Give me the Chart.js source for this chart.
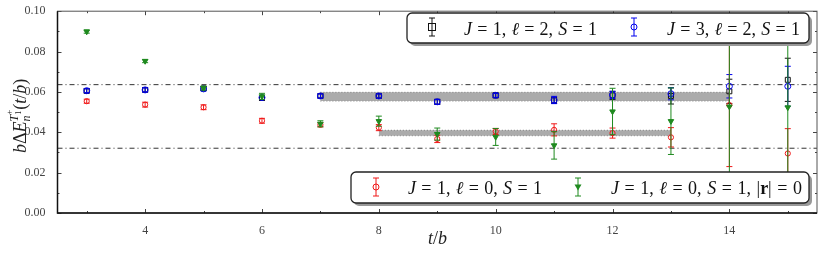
<!DOCTYPE html>
<html>
<head>
<meta charset="utf-8">
<script src="https://cdn.jsdelivr.net/npm/chart.js@4.4.0/dist/chart.umd.min.js"></script>
<style>
  html, body { margin: 0; padding: 0; background: #fff; }
</style>
</head>
<body>
<canvas id="myChart" width="822" height="254"></canvas>
<script>
// time slices t/b
const tValues = [3, 4, 5, 6, 7, 8, 9, 10, 11, 12, 13, 14, 15];

// J=1, l=2, S=1 (black squares)
const j1l2 = [0.0605, 0.0610, 0.0617, 0.0570, 0.0580, 0.0580, 0.0551, 0.0583, 0.0558, 0.0583, 0.0580, 0.0603, 0.0660];
const j1l2Err = [0.0010, 0.0010, 0.0010, 0.0012, 0.0010, 0.0010, 0.0012, 0.0012, 0.0015, 0.0020, 0.0040, 0.0060, 0.0107];

// J=3, l=2, S=1 (blue circles)
const j3l2 = [0.0606, 0.0610, 0.0615, 0.0572, 0.0580, 0.0580, 0.0551, 0.0583, 0.0560, 0.0585, 0.0591, 0.0628, 0.0628];
const j3l2Err = [0.0010, 0.0010, 0.0010, 0.0010, 0.0010, 0.0010, 0.0012, 0.0010, 0.0018, 0.0018, 0.0030, 0.0058, 0.0099];

// J=1, l=0, S=1 (red circles)
const j1l0 = [0.0554, 0.0537, 0.0524, 0.0457, 0.0437, 0.0423, 0.0367, 0.0404, 0.0412, 0.0396, 0.0375, 0.0535, 0.0295];
const j1l0Err = [0.0010, 0.0012, 0.0012, 0.0012, 0.0010, 0.0015, 0.0018, 0.0015, 0.0030, 0.0025, 0.0048, 0.0305, 0.0123];

// J=1, l=0, S=1, |r|=0 (green triangles)
const j1l0r0 = [0.0899, 0.0753, 0.0619, 0.0578, 0.0442, 0.0455, 0.0391, 0.0377, 0.0335, 0.0503, 0.0455, 0.0527, 0.0523];
const j1l0r0Err = [0.0008, 0.0008, 0.0010, 0.0015, 0.0015, 0.0025, 0.0030, 0.0042, 0.0068, 0.0115, 0.0165, 0.0380, 0.0380];

// plateau fits: [tmin, tmax], [low, high]
const fitUpperT = [7, 14];
const fitUpperE = [0.0555, 0.0598];
const fitLowerT = [8, 13];
const fitLowerE = [0.0383, 0.0410];

// thresholds (dash-dot)
const thresholds = [0.0636, 0.0321];

const xTicks = [4, 6, 8, 10, 12, 14];
const yTicks = [0.00, 0.02, 0.04, 0.06, 0.08, 0.10];

const SERIF = '"Liberation Serif", "DejaVu Serif", serif';

const pts = (ys) => tValues.map((t, i) => ({ x: t, y: ys[i] }));

function bandSets(ts, es) {
    return [
        { data: [{ x: ts[0], y: es[1] }, { x: ts[1], y: es[1] }], showLine: true, pointRadius: 0,
          borderColor: '#777', borderWidth: 1, borderDash: [1, 2], fill: '+1',
          backgroundColor: 'rgba(150,150,150,0.8)' },
        { data: [{ x: ts[0], y: es[0] }, { x: ts[1], y: es[0] }], showLine: true, pointRadius: 0,
          borderColor: '#777', borderWidth: 1, borderDash: [1, 2], fill: false }
    ];
}

function hline(y) {
    return { data: [{ x: 2.5, y: y }, { x: 15.5, y: y }], showLine: true, pointRadius: 0,
             borderColor: '#333', borderWidth: 1, borderDash: [5, 3, 1, 3], fill: false };
}

const fontOf = (p, size) => (p.i ? 'italic ' : '') + (p.b ? 'bold ' : '') + (p.s || size) + 'px ' + SERIF;

// draws a rich text run; parts: {t, i (italic), b (bold), s (size), dy, stay}
// if width is given, extra room is spread over the spaces
function drawRich(ctx, x, y, parts, size, width) {
    let extra = 0;
    if (width) {
        let nat = 0, spaces = 0;
        parts.forEach(p => {
            ctx.font = fontOf(p, size);
            if (!p.stay) nat += ctx.measureText(p.t).width;
            spaces += (p.t.match(/ /g) || []).length;
        });
        extra = spaces ? (width - nat) / spaces : 0;
    }
    parts.forEach(p => {
        ctx.font = fontOf(p, size);
        const bits = p.t.split(' ');
        let cx = x;
        bits.forEach((b, k) => {
            if (k > 0) cx += ctx.measureText(' ').width + extra;
            ctx.fillText(b, cx, y + (p.dy || 0));
            cx += ctx.measureText(b).width;
        });
        if (!p.stay) x = cx;
    });
    return x;
}

function marker(ctx, style, x, y, color) {
    ctx.strokeStyle = color;
    ctx.fillStyle = color;
    ctx.lineWidth = 1;
    if (style === 'rect') {
        ctx.strokeRect(x - 3.5, y - 3.5, 7, 7);
    } else if (style === 'circle') {
        ctx.beginPath(); ctx.arc(x, y, 3, 0, Math.PI * 2); ctx.stroke();
    } else {
        ctx.beginPath(); ctx.moveTo(x - 3.5, y - 2.5); ctx.lineTo(x + 3.5, y - 2.5); ctx.lineTo(x, y + 3.5);
        ctx.closePath(); ctx.fill();
    }
}

function errIcon(ctx, x, y, ds) {
    ctx.strokeStyle = ds.borderColor;
    ctx.lineWidth = 1;
    ctx.beginPath();
    ctx.moveTo(x, y - 9); ctx.lineTo(x, y + 9);
    ctx.moveTo(x - 3, y - 9); ctx.lineTo(x + 3, y - 9);
    ctx.moveTo(x - 3, y + 9); ctx.lineTo(x + 3, y + 9);
    ctx.stroke();
    marker(ctx, ds.mark, x, y, ds.borderColor);
}

function legendBox(ctx, x, y, w, h) {
    ctx.fillStyle = '#999';
    ctx.beginPath(); ctx.roundRect(x + 3, y + 3, w, h, 5); ctx.fill();
    ctx.fillStyle = '#fff';
    ctx.strokeStyle = '#222';
    ctx.lineWidth = 1.3;
    ctx.beginPath(); ctx.roundRect(x, y, w, h, 5); ctx.fill(); ctx.stroke();
}

const errorBars = {
    id: 'errorBars',
    beforeDatasetDraw(chart, args) {
        const ds = chart.data.datasets[args.index];
        if (!ds.errors) return;
        const { ctx, chartArea: a } = chart;
        const xs = chart.scales.x, ys = chart.scales.y;
        ctx.save();
        ctx.beginPath(); ctx.rect(a.left, a.top, a.right - a.left, a.bottom - a.top); ctx.clip();
        ctx.strokeStyle = ds.borderColor;
        ctx.lineWidth = 1;
        ds.data.forEach((p, i) => {
            const px = xs.getPixelForValue(p.x);
            const top = ys.getPixelForValue(p.y + ds.errors[i]);
            const bot = ys.getPixelForValue(p.y - ds.errors[i]);
            ctx.beginPath();
            ctx.moveTo(px, top); ctx.lineTo(px, bot);
            ctx.moveTo(px - 3, top); ctx.lineTo(px + 3, top);
            ctx.moveTo(px - 3, bot); ctx.lineTo(px + 3, bot);
            ctx.stroke();
        });
        ctx.restore();
    }
};

const decorations = {
    id: 'decorations',
    afterDraw(chart) {
        const { ctx, chartArea: a } = chart;
        const xs = chart.scales.x, ys = chart.scales.y;
        ctx.save();
        // inward ticks on all four sides
        ctx.strokeStyle = '#444';
        ctx.lineWidth = 1;
        ctx.beginPath();
        for (let t = 3; t <= 15; t++) {
            const px = Math.round(xs.getPixelForValue(t)) + 0.5;
            const len = t % 2 === 0 ? 4 : 2;
            ctx.moveTo(px, a.bottom); ctx.lineTo(px, a.bottom - len);
            ctx.moveTo(px, a.top); ctx.lineTo(px, a.top + len);
        }
        for (let k = 0; k <= 10; k++) {
            const py = Math.round(ys.getPixelForValue(k / 100)) + 0.5;
            const len = k % 2 === 0 ? 4 : 2;
            ctx.moveTo(a.left, py); ctx.lineTo(a.left + len, py);
            ctx.moveTo(a.right, py); ctx.lineTo(a.right - len, py);
        }
        ctx.stroke();
        // frame
        ctx.strokeStyle = '#555';
        ctx.strokeRect(a.left, a.top, a.right - a.left, a.bottom - a.top);
        ctx.strokeStyle = '#111';
        ctx.lineWidth = 1.5;
        ctx.beginPath();
        ctx.moveTo(a.left, a.top); ctx.lineTo(a.left, a.bottom); ctx.lineTo(a.right, a.bottom);
        ctx.stroke();

        // legends
        const sets = chart.data.datasets;
        const byLabel = l => sets.find(d => d.label === l);
        ctx.textBaseline = 'alphabetic';
        ctx.textAlign = 'left';
        legendBox(ctx, 407, 13, 402, 30);
        legendBox(ctx, 351, 172, 458, 31);
        errIcon(ctx, 432, 27, byLabel('j1l2'));
        errIcon(ctx, 634, 27, byLabel('j3l2'));
        errIcon(ctx, 376, 187, byLabel('j1l0'));
        errIcon(ctx, 578, 187, byLabel('j1l0r0'));
        ctx.fillStyle = '#111';
        const lbl = (j, l) => [
            { t: 'J', i: true }, { t: ' = ' + j + ', ' }, { t: 'ℓ', i: true }, { t: ' = ' + l + ', ' },
            { t: 'S', i: true }, { t: ' = 1' }
        ];
        drawRich(ctx, 464, 35, lbl('1', '2'), 18, 133);
        drawRich(ctx, 667, 35, lbl('3', '2'), 18, 133);
        drawRich(ctx, 408, 194, lbl('1', '0'), 18, 134);
        drawRich(ctx, 611, 194, lbl('1', '0').concat([{ t: ', |' }, { t: 'r', b: true }, { t: '| = 0' }]), 18, 191);

        // axis titles
        ctx.fillStyle = '#222';
        drawRich(ctx, 428, 244, [{ t: 't', i: true }, { t: '/' }, { t: 'b', i: true }], 18);
        ctx.translate(26, 153);
        ctx.rotate(-Math.PI / 2);
        drawRich(ctx, 0, 0, [
            { t: 'b', i: true }, { t: 'Δ' }, { t: 'E', i: true },
            { t: 'n', i: true, s: 12, dy: 4, stay: true },
            { t: 'T', i: true, s: 12, dy: -8 },
            { t: '1', s: 8, dy: -5, stay: true }, { t: '+', s: 9, dy: -14 },
            { t: '(' }, { t: 't', i: true }, { t: '/' }, { t: 'b', i: true }, { t: ')' }
        ], 18);
        ctx.restore();
    }
};

const ctx = document.getElementById('myChart').getContext('2d');
const myChart = new Chart(ctx, {
    type: 'scatter',
    data: {
        datasets: [
            { label: 'j1l0r0', data: pts(j1l0r0), errors: j1l0r0Err, mark: 'triangle',
              pointStyle: 'triangle', rotation: 180, pointRadius: 3.2, borderWidth: 1,
              borderColor: '#1f8a1f', backgroundColor: '#1f8a1f' },
            { label: 'j1l0', data: pts(j1l0), errors: j1l0Err, mark: 'circle',
              pointStyle: 'circle', pointRadius: 2.6, borderWidth: 1,
              borderColor: '#f01818', backgroundColor: 'rgba(0,0,0,0)' },
            { label: 'j3l2', data: pts(j3l2), errors: j3l2Err, mark: 'circle',
              pointStyle: 'circle', pointRadius: 3, borderWidth: 1,
              borderColor: '#0000ee', backgroundColor: 'rgba(0,0,0,0)' },
            { label: 'j1l2', data: pts(j1l2), errors: j1l2Err, mark: 'rect',
              pointStyle: 'rect', pointRadius: 3.5, borderWidth: 1,
              borderColor: '#111', backgroundColor: 'rgba(0,0,0,0)' },
            hline(thresholds[0]),
            hline(thresholds[1]),
            ...bandSets(fitUpperT, fitUpperE),
            ...bandSets(fitLowerT, fitLowerE)
        ]
    },
    options: {
        responsive: false,
        animation: false,
        devicePixelRatio: 1,
        layout: { padding: { top: 5, right: 5, left: 0, bottom: 0 } },
        plugins: { legend: { display: false }, tooltip: { enabled: false } },
        scales: {
            x: {
                type: 'linear', min: 2.5, max: 15.5,
                afterBuildTicks: s => { s.ticks = xTicks.map(v => ({ value: v })); },
                afterFit: s => { s.height = 41; },
                grid: { display: false }, border: { display: false },
                ticks: { color: '#444', padding: 3, font: { family: SERIF, size: 12 } }
            },
            y: {
                min: 0, max: 0.1,
                afterBuildTicks: s => { s.ticks = yTicks.map(v => ({ value: v })); },
                afterFit: s => { s.width = 57.5; },
                grid: { display: false }, border: { display: false },
                ticks: { color: '#444', padding: 4, font: { family: SERIF, size: 12 },
                         callback: v => v.toFixed(2) }
            }
        }
    },
    plugins: [errorBars, decorations]
});
</script>
</body>
</html>
